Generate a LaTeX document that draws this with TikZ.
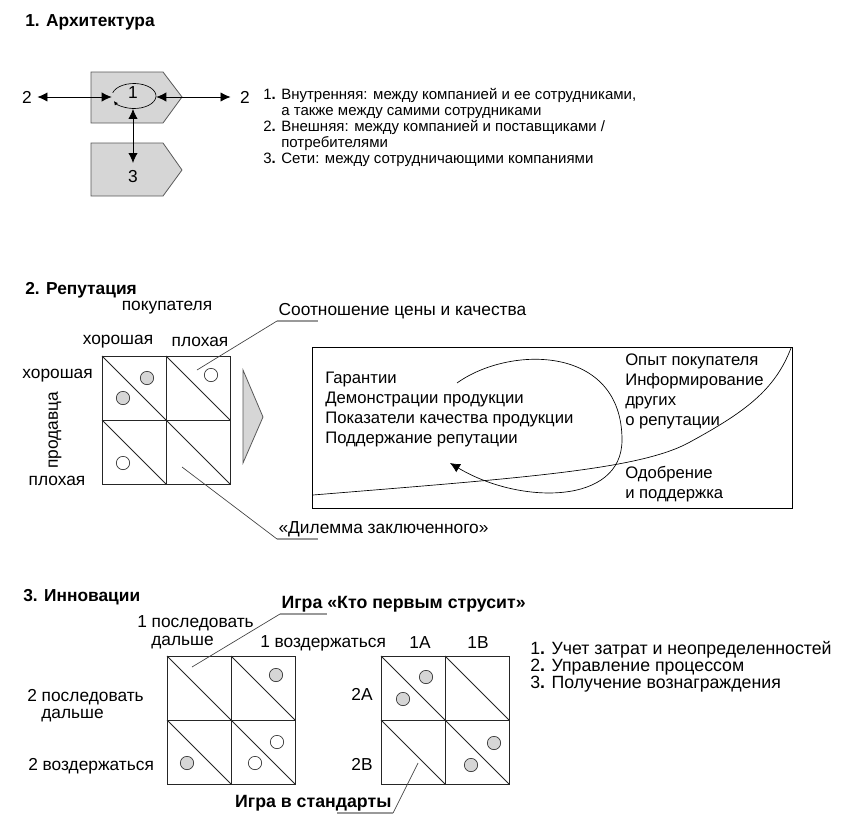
\documentclass[tikz,border=0pt]{standalone}
\usepackage{fontspec}
\setmainfont{Liberation Sans}
\usepackage{tikz}
\usetikzlibrary{arrows.meta,shapes.geometric,calc}
\tikzset{%
  txt/.style={inner sep=0pt},
  head/.style={inner sep=0pt,anchor=west,font=\fontsize{13}{15}\selectfont\bfseries},
  dot/.style={circle,inner sep=0pt,minimum size=10pt,draw=black!80,line width=0.5pt,fill=#1},
  dot/.default=white,
  cell/.style={draw=black!85,line width=0.6pt},
  leader/.style={draw=black!75,line width=0.5pt},
  uline/.style={draw=black!40,line width=0.8pt},
  block/.style={fill=c0,draw=black!65,line width=0.6pt},
  twoway/.style={{Latex[length=7.5pt,width=7pt]}-{Latex[length=7.5pt,width=7pt]},line width=0.6pt}
}
\definecolor{c0}{RGB}{214,214,214}
\newcommand{\itemno}[1]{#1\textbf{.}}

\begin{document}
\begin{tikzpicture}[x=0.75pt,y=-0.75pt,font=\fontsize{13}{15}\selectfont]
  \useasboundingbox (0,0) rectangle (860,832);
  %%% 1. architecture
  \node[head] (h1) at (25,22) {1. Архитектура};
  \draw[block] (91,72) -- (163,72) -- (182,97) -- (163,123) -- (91,123) -- cycle;
  \draw[block] (91,143) -- (163,143) -- (182,170) -- (163,196) -- (91,196) -- cycle;
  \node[ellipse,minimum width=33pt,minimum height=19pt,inner sep=0pt] (e1) at (134,96) {};
  \node[txt] (n1) at (133,93) {1};
  \draw[line width=0.5pt,-{Latex[length=3pt,width=3pt]}] ($(e1.center)+(195:22 and 12.5)$)
    arc[start angle=195,end angle=516,x radius=22,y radius=12.5];
  \node[txt,inner sep=4pt] (twoL) at (27,97) {2};
  \node[txt,inner sep=4pt] (twoR) at (245,97) {2};
  \node[txt] (n3) at (133,177) {3};
  \coordinate (a3) at (133,163);
  \draw[twoway] (twoL) -- (e1.west |- twoL);
  \draw[twoway] (e1.east |- twoR) -- ([xshift=-3pt]twoR.west);
  \draw[twoway] (e1.south -| a3) -- (a3);
  \node[txt,align=left,anchor=north west,font=\fontsize{11.25}{12}\selectfont] (archlist) at (263,88)
    {\itemno{1} Внутренняя: между компанией и ее сотрудниками,\\
     \phantom{\itemno{1} }а также между самими сотрудниками\\
     \itemno{2} Внешняя: между компанией и поставщиками /\\
     \phantom{\itemno{2} }потребителями\\
     \itemno{3} Сети: между сотрудничающими компаниями};
  %%% 2. reputation
  \node[head] (h2) at (25,290) {2. Репутация};
  \coordinate (a0) at (102,356);
  \coordinate (a1) at (166,356);
  \coordinate (a2) at (230,356);
  \coordinate (a3) at (102,420);
  \coordinate (a4) at (166,420);
  \coordinate (a5) at (230,420);
  \coordinate (a6) at (102,484);
  \coordinate (a7) at (166,484);
  \coordinate (a8) at (230,484);
  \draw[cell] (a0) rectangle (a8);
  \draw[cell] (a1) -- (a7);
  \draw[cell] (a3) -- (a5);
  \draw[cell] (a0) -- (a4) (a1) -- (a5) (a3) -- (a7) (a4) -- (a8);
  \node[dot=c0] (ad0) at (147,378) {};
  \node[dot=c0] (ad1) at (123,398) {};
  \node[dot] (ad2) at (211,375) {};
  \node[dot] (ad3) at (123,463) {};
  \node[txt] (buyer) at (167,308) {покупателя};
  \node[txt] (bgood) at (118,342) {хорошая};
  \node[txt] (bbad) at (200,342) {плохая};
  \node[txt,anchor=east] (sgood) at (93,376) {хорошая};
  \node[txt,rotate=90] (seller) at (55,430) {продавца};
  \node[txt] (sbad) at (57,481) {плохая};
  \draw[block] (243,370) -- (263,417) -- (243,463) -- cycle;
  \node[txt,inner sep=1pt,anchor=south west] (price) at (277,321) {Соотношение цены и качества};
  \coordinate (ap) at (197,370);
  \draw[leader] (ap) -- (price.south west);
  \draw[uline] (price.south west) -- ++(41,0);
  \node[txt,inner sep=1pt,anchor=south west] (dilemma) at (277,539) {«Дилемма заключенного»};
  \coordinate (ad) at (182,467);
  \draw[leader] (ad) -- (dilemma.south west);
  \draw[uline] (dilemma.south west) -- ++(41,0);
  \draw[line width=0.7pt] (312,347) rectangle (792,508);
  \node[txt,align=left,anchor=north west,font=\fontsize{12.5}{15}\selectfont] (seller1) at (325,372)
    {Гарантии\\Демонстрации продукции\\Показатели качества продукции\\Поддержание репутации};
  \node[txt,align=left,anchor=north west,font=\fontsize{12.5}{15}\selectfont] (buyer1) at (625,354)
    {Опыт покупателя\\Информирование\\других\\о репутации};
  \node[txt,align=left,anchor=north west,font=\fontsize{12.5}{15}\selectfont] (buyer2) at (625,466)
    {Одобрение\\и поддержка};
  \draw[line width=0.5pt] (313,495) .. controls (520,478) and (640,470) .. (690,442)
    .. controls (745,412) and (775,390) .. (791,348);
  \draw[line width=0.5pt,-{Latex[length=7.5pt,width=7pt]}] (457,383) .. controls (510,345) and (622,345) .. (622,440)
    .. controls (622,505) and (520,505) .. (450,463);
  %%% 3. innovations
  \node[head] (h3) at (23,597) {3. Инновации};
  \coordinate (b0) at (167,656);
  \coordinate (b1) at (231,656);
  \coordinate (b2) at (295,656);
  \coordinate (b3) at (167,720);
  \coordinate (b4) at (231,720);
  \coordinate (b5) at (295,720);
  \coordinate (b6) at (167,784);
  \coordinate (b7) at (231,784);
  \coordinate (b8) at (295,784);
  \draw[cell] (b0) rectangle (b8);
  \draw[cell] (b1) -- (b7);
  \draw[cell] (b3) -- (b5);
  \draw[cell] (b0) -- (b4) (b1) -- (b5) (b3) -- (b7) (b4) -- (b8);
  \node[dot=c0] (bd0) at (276,675) {};
  \node[dot=c0] (bd1) at (187,763) {};
  \node[dot] (bd2) at (277,742) {};
  \node[dot] (bd3) at (255,763) {};
  \coordinate (c0) at (381,656);
  \coordinate (c1) at (445,656);
  \coordinate (c2) at (509,656);
  \coordinate (c3) at (381,720);
  \coordinate (c4) at (445,720);
  \coordinate (c5) at (509,720);
  \coordinate (c6) at (381,784);
  \coordinate (c7) at (445,784);
  \coordinate (c8) at (509,784);
  \draw[cell] (c0) rectangle (c8);
  \draw[cell] (c1) -- (c7);
  \draw[cell] (c3) -- (c5);
  \draw[cell] (c0) -- (c4) (c1) -- (c5) (c3) -- (c7) (c4) -- (c8);
  \node[dot=c0] (cd0) at (426,677) {};
  \node[dot=c0] (cd1) at (403,699) {};
  \node[dot=c0] (cd2) at (494,743) {};
  \node[dot=c0] (cd3) at (471,765) {};
  \node[txt,anchor=west] (go1a) at (137,623) {1 последовать};
  \node[txt,anchor=west] (go1b) at (151,643) {дальше};
  \node[txt,anchor=west] (stop1) at (260,643) {1 воздержаться};
  \node[txt,anchor=west] (go2a) at (27,697) {2 последовать};
  \node[txt,anchor=west] (go2b) at (41,716) {дальше};
  \node[txt,anchor=west] (stop2) at (28,766) {2 воздержаться};
  \node[txt] (s1a) at (420,643) {1A};
  \node[txt] (s1b) at (478,643) {1B};
  \node[txt] (s2a) at (362,694) {2A};
  \node[txt] (s2b) at (362,764) {2B};
  \node[txt,inner sep=1pt,anchor=south west,font=\fontsize{13.3}{15}\selectfont\bfseries] (chicken) at (280,614) {Игра «Кто первым струсит»};
  \coordinate (bp) at (192,667);
  \draw[leader] (bp) -- (chicken.south west);
  \draw[uline] (chicken.south west) -- ++(47,0);
  \node[txt,inner sep=1pt,anchor=south east,font=\fontsize{13.3}{15}\selectfont\bfseries] (standard) at (393,813) {Игра в стандарты};
  \coordinate (cp) at (418,763);
  \draw[leader] (cp) -- (standard.south east);
  \draw[uline] (standard.south east) -- ++(-56,0);
  \node[txt,align=left,anchor=north west,font=\fontsize{13.3}{12.75}\selectfont] (innolist) at (530,641)
    {\itemno{1} Учет затрат и неопределенностей\\
     \itemno{2} Управление процессом\\
     \itemno{3} Получение вознаграждения};
\end{tikzpicture}
\end{document}
